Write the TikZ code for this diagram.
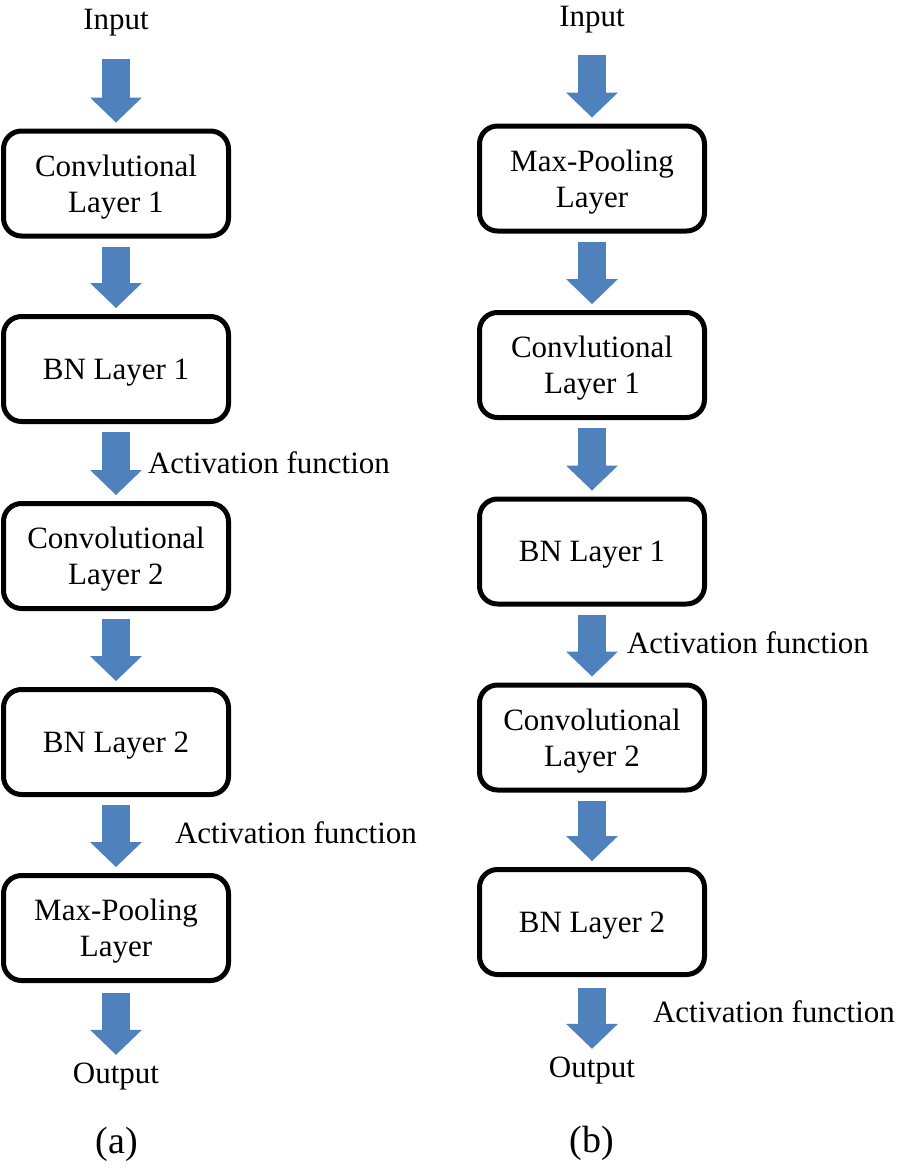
\documentclass[tikz,border=0pt]{standalone}
\usepackage{fontspec}
\setmainfont{Liberation Serif}
\usetikzlibrary{arrows.meta}
\definecolor{FlowBlue}{HTML}{4F81BD}

\begin{document}
\begin{tikzpicture}[x=1pt, y=-1pt, font=\fontsize{31}{36}\selectfont,
    layer/.style={draw, line width=5pt, rounded corners=18pt, minimum width=225pt, minimum height=105pt, align=center, inner sep=0pt, text depth=0pt},
    flow/.style={draw=FlowBlue, line width=28pt, shorten <=8pt, shorten >=6pt, -{Triangle[width=52pt, length=25pt, line width=0pt]}},
    io/.style={inner sep=0pt, text height=21pt, text depth=7pt},
    act/.style={anchor=west, inner sep=0pt, outer sep=0pt},
    caption/.style={anchor=base, font=\fontsize{38}{44}\selectfont}]
    \useasboundingbox (0,0) rectangle (902,1170);

    % (a)
    \node[io, anchor=base] (inA) at (116,29) {Input};
    \node[layer] (a1) at (116,183.5) {Convlutional\\Layer 1};
    \node[layer] (a2) at (116,369) {BN Layer 1};
    \node[layer] (a3) at (116,556) {Convolutional\\Layer 2};
    \node[layer] (a4) at (116,742) {BN Layer 2};
    \node[layer] (a5) at (116,928) {Max-Pooling\\Layer};
    \node[io, anchor=base] (outA) at (116,1083) {Output};
    \node[caption] (capA) at (117,1153) {(a)};

    \draw[flow, shorten <=23pt] (inA) -- (a1);
    \draw[flow] (a1) -- (a2);
    \draw[flow] (a2) -- node[act, xshift=32pt] {Activation function} (a3);
    \draw[flow] (a3) -- (a4);
    \draw[flow] (a4) -- node[act, xshift=59pt, yshift=2pt] {Activation function} (a5);
    \draw[flow, shorten <=10pt, shorten >=7pt] (a5) -- (outA);

    % (b)
    \node[io, anchor=base] (inB) at (592,26) {Input};
    \node[layer] (b1) at (592,178.5) {Max-Pooling\\Layer};
    \node[layer] (b2) at (592,365) {Convlutional\\Layer 1};
    \node[layer] (b3) at (592,551.5) {BN Layer 1};
    \node[layer] (b4) at (592,737.5) {Convolutional\\Layer 2};
    \node[layer] (b5) at (592,922) {BN Layer 2};
    \node[io, anchor=base] (outB) at (592,1077) {Output};
    \node[caption] (capB) at (592,1152) {(b)};

    \draw[flow, shorten <=22pt] (inB) -- (b1);
    \draw[flow] (b1) -- (b2);
    \draw[flow] (b2) -- (b3);
    \draw[flow] (b3) -- node[act, xshift=35pt, yshift=2pt] {Activation function} (b4);
    \draw[flow] (b4) -- (b5);
    \draw[flow, shorten <=11pt, shorten >=7pt] (b5) -- node[act, xshift=61pt, yshift=5pt] {Activation function} (outB);
\end{tikzpicture}
\end{document}
